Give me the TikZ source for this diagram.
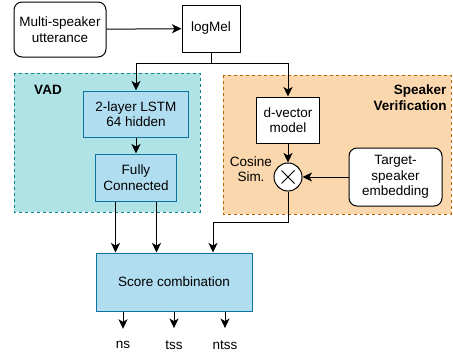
\documentclass[tikz,border=0pt]{standalone}
\usepackage{fontspec}
\setmainfont{Liberation Sans}
\usetikzlibrary{arrows.meta,calc}
\definecolor{vadfill}{HTML}{B0E3E6}
\definecolor{vadline}{HTML}{0E8088}
\definecolor{bluefill}{HTML}{B1DDF0}
\definecolor{blueline}{HTML}{10739E}
\definecolor{svfill}{HTML}{FAD7AC}
\definecolor{svline}{HTML}{B46504}
\begin{document}
\begin{tikzpicture}[x = 1pt, y = -1pt, line width = 1pt,
    every node/.style = {font = \fontsize{13.5}{15.5}\selectfont, align = center, inner sep = 0},
    plain/.style = {draw, fill = white},
    blue/.style = {draw = blueline, fill = bluefill},
    arr/.style = {-{Stealth[length = 9.5pt, width = 9pt, inset = 2.5pt]}}]
      \useasboundingbox (0, 0) rectangle (453, 356);
      \draw [dash pattern = on 3pt off 3pt, draw = vadline, fill = vadfill] (14, 73) rectangle (200, 212);
      \draw [dash pattern = on 3pt off 3pt, draw = svline, fill = svfill] (223, 75) rectangle (451, 214);
      \node [font = \fontsize{13.5}{15.5}\selectfont\bfseries] (vad) at (48, 90) {VAD};
      \node [font = \fontsize{13.5}{15.5}\selectfont\bfseries, align = right, anchor = east] (sv) at (447, 97.5) {Speaker\\Verification};
      \node [plain, rounded corners = 8pt, minimum width = 92pt, minimum height = 55pt] (utt) at (60, 29.5) {Multi-speaker\\utterance};
      \node [plain, minimum width = 58pt, minimum height = 47pt] (logmel) at (211, 28.5) {logMel};
      \node [blue, minimum width = 105pt, minimum height = 46pt] (lstm) at (136, 114) {2-layer LSTM\\64 hidden};
      \node [blue, minimum width = 81pt, minimum height = 47pt] (fc) at (136, 177.5) {Fully\\Connected};
      \node [plain, minimum width = 63pt, minimum height = 46pt] (dvec) at (288, 120) {d-vector\\model};
      \node [plain, circle, minimum size = 28pt] (cos) at (288, 177) {};
      \draw ($(cos) + (-6.5, -6.5)$) -- ($(cos) + (6.5, 6.5)$);
      \draw ($(cos) + (-6.5, 6.5)$) -- ($(cos) + (6.5, -6.5)$);
      \node (cosl) at (251, 169) {Cosine\\Sim.};
      \node [plain, rounded corners = 8pt, minimum width = 93pt, minimum height = 58pt] (target) at (395.5, 177) {Target-\\speaker\\embedding};
      \node [blue, minimum width = 156pt, minimum height = 58pt] (score) at (174, 282) {Score combination};
      \node (ns) at (123, 345) {ns};
      \node (tss) at (174, 345) {tss};
      \node (ntss) at (225, 345) {ntss};
      \coordinate (split) at (211, 63);
      \coordinate (bend) at (213, 222);
      \draw [arr] (utt) -- (logmel);
      \draw (logmel.south) -- (split);
      \draw [arr] (split) -| (lstm.north);
      \draw [arr] (split) -| (dvec.north);
      \draw [arr] (lstm) -- (fc);
      \draw [arr] (dvec) -- (cos);
      \draw [arr] (target) -- (cos);
      \draw [arr] ([xshift = -20.5pt] fc.south) -- ([xshift = -20.5pt] fc.south |- score.north);
      \draw [arr] ([xshift = 20.5pt] fc.south) -- ([xshift = 20.5pt] fc.south |- score.north);
      \draw [arr] (cos.south) |- (bend) -- (bend |- score.north);
      \draw [arr, shorten > = 12pt] (score.south -| ns) -- (ns);
      \draw [arr, shorten > = 12pt] (score.south -| tss) -- (tss);
      \draw [arr, shorten > = 12pt] (score.south -| ntss) -- (ntss);
\end{tikzpicture}
\end{document}
